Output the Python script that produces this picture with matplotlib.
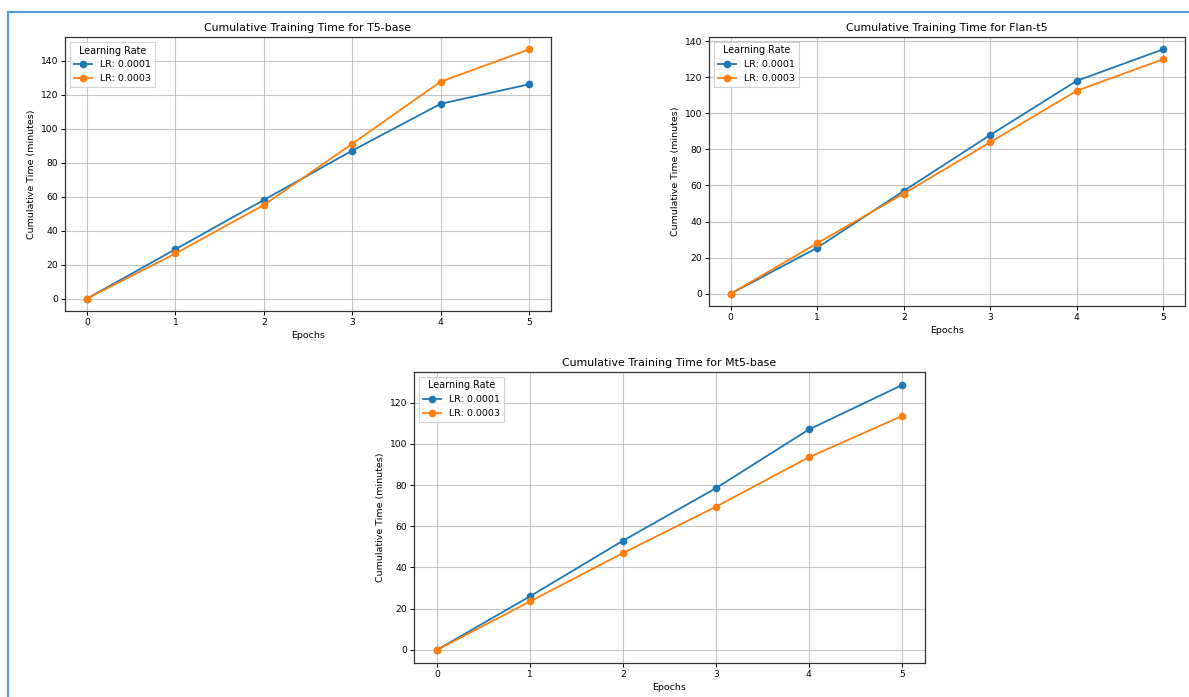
import matplotlib
matplotlib.use("Agg")
import matplotlib.pyplot as plt
from matplotlib.lines import Line2D


epochs = [0, 1, 2, 3, 4, 5]

t5_lr1 = [0, 29, 58, 87, 114.5, 126]
t5_lr3 = [0, 26.5, 55, 91, 127.5, 146.5]

flan_lr1 = [0, 25.5, 57, 88, 118, 135.5]
flan_lr3 = [0, 28, 55.5, 84, 112.5, 130]

mt5_lr1 = [0, 26, 53, 78.5, 107, 128.5]
mt5_lr3 = [0, 23.5, 47, 69.5, 93.5, 113.5]

labels = ["LR: 0.0001", "LR: 0.0003"]
colors = ["#1f77b4", "#ff7f0e"]

W, H = 1189, 697
dpi = 100


# Рисуем один график по пикселям (left, top, right, bottom)
def draw_panel(fig, box, title, series):
    l, t, r, b = box
    ax = fig.add_axes([l / W, 1 - b / H, (r - l) / W, (b - t) / H])
    for vals, lab, col in zip(series, labels, colors):
        ax.plot(epochs, vals, marker="o", color=col, label=lab,
                lw=1.3, ms=4.5)
    ax.set_title(title, fontsize=7.9, pad=4)
    ax.set_xlabel("Epochs", fontsize=6.8, labelpad=3)
    ax.set_ylabel("Cumulative Time (minutes)", fontsize=6.8, labelpad=3)
    ax.tick_params(labelsize=6.6, length=3, width=0.7, pad=2)
    ax.grid(True, color="#a8a8a8", lw=0.8, alpha=0.65)
    for s in ax.spines.values():
        s.set_color("#333333")
        s.set_linewidth(0.9)
    leg = ax.legend(title="Learning Rate", loc="upper left", fontsize=6.8,
                    title_fontsize=6.9, borderaxespad=0.5, handlelength=2,
                    fancybox=False, edgecolor="#c8c8c8")
    leg.get_frame().set_linewidth(0.8)
    return ax


fig = plt.figure(figsize=(W / dpi, H / dpi), dpi=dpi)

draw_panel(fig, (65, 37, 551, 311), "Cumulative Training Time for T5-base",
           [t5_lr1, t5_lr3])
draw_panel(fig, (709, 37, 1185, 306), "Cumulative Training Time for Flan-t5",
           [flan_lr1, flan_lr3])
draw_panel(fig, (414, 372, 925, 663), "Cumulative Training Time for Mt5-base",
           [mt5_lr1, mt5_lr3])

# Синяя рамка слева и сверху
bx, by = 7.5 / W, 1 - 12 / H
fig.add_artist(Line2D([bx, bx], [0, by], color="#5b9bd5", lw=1.6,
                      transform=fig.transFigure))
fig.add_artist(Line2D([bx, 1], [by, by], color="#5b9bd5", lw=1.6,
                      transform=fig.transFigure))

fig.savefig("out.png", dpi=dpi)
